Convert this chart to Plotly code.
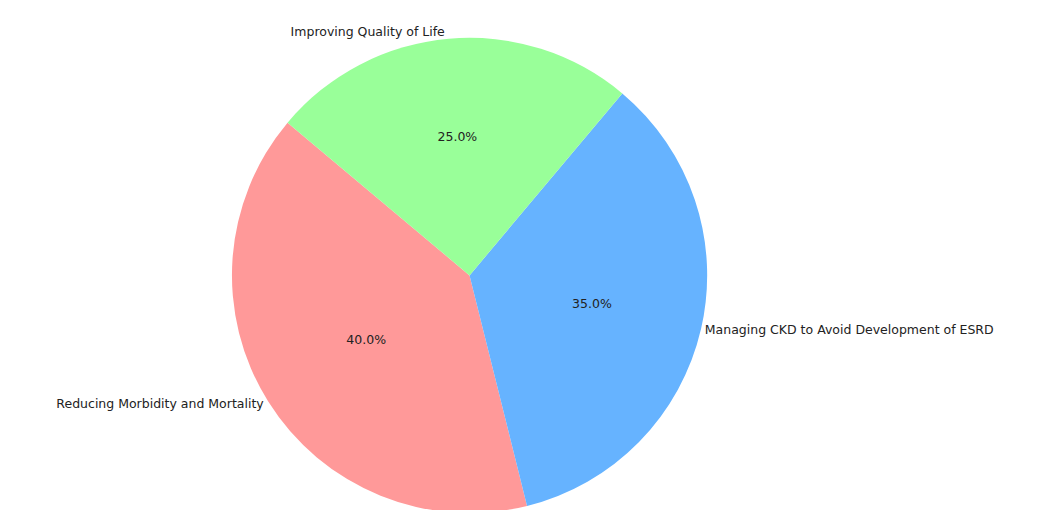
import plotly.graph_objects as go

labels = ["Reducing Morbidity and Mortality",
          "Managing CKD to Avoid Development of ESRD",
          "Improving Quality of Life"]
values = [40, 35, 25]
colors = ["#ff9999", "#66b3ff", "#99ff99"]

dom = dict(x=[0.211, 0.669], y=[0.0, 0.941])
font = dict(family="DejaVu Sans", size=12.5, color="#222222")

fig = go.Figure()
fig.add_trace(go.Pie(
    labels=labels, values=values, sort=False, direction="counterclockwise",
    rotation=166, marker=dict(colors=colors), domain=dom,
    textinfo="percent", texttemplate="%{percent:.1%}", textposition="inside",
    insidetextorientation="horizontal", textfont=font, showlegend=False,
))
fig.add_trace(go.Pie(
    labels=labels, values=values, sort=False, direction="counterclockwise",
    rotation=166, marker=dict(colors=["rgba(0,0,0,0)"] * 3), domain=dom,
    textinfo="label", textposition="outside", textfont=font, showlegend=False,
    hoverinfo="skip",
))
fig.update_layout(
    width=1049, height=510, margin=dict(l=0, r=0, t=0, b=0),
    paper_bgcolor="white", plot_bgcolor="white",
)
fig.write_html("out.html")
